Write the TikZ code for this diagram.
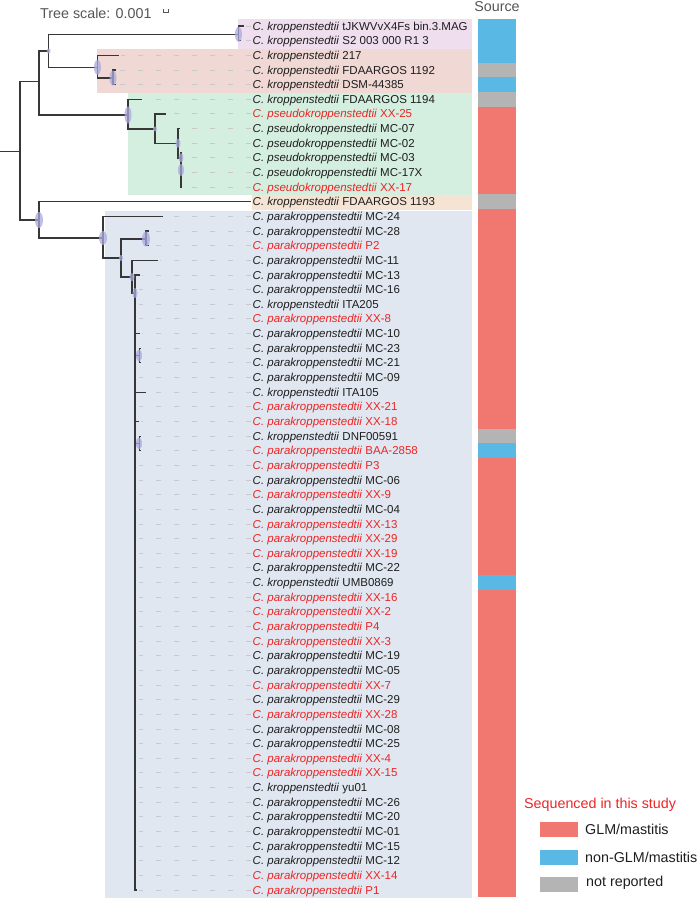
\documentclass[tikz,border=0pt]{standalone}
\usepackage{fontspec}
\setmainfont{Liberation Sans}
\usetikzlibrary{shapes.geometric}
\definecolor{tk}{RGB}{30,30,30}
\definecolor{tr}{RGB}{236,36,36}
\definecolor{tg}{RGB}{85,85,85}
\definecolor{br}{RGB}{55,55,55}
\definecolor{cdash}{RGB}{200,200,205}
\definecolor{cpur}{RGB}{238,222,238}
\definecolor{cpink}{RGB}{240,216,212}
\definecolor{cgreen}{RGB}{212,238,223}
\definecolor{ctan}{RGB}{245,228,211}
\definecolor{cblue}{RGB}{225,231,240}
\definecolor{cglm}{RGB}{240,120,112}
\definecolor{cnon}{RGB}{90,185,228}
\definecolor{cnr}{RGB}{180,180,180}
\definecolor{cell}{RGB}{170,170,222}
\begin{document}
\begin{tikzpicture}[x=1pt,y=-1pt,
  lk/.style={anchor=base west, inner sep=0pt, text=tk, font=\fontsize{11.5}{13}\selectfont},
  lr/.style={lk, text=tr},
  leader/.style={draw=cdash, line width=0.8pt, dash pattern=on 5pt off 13pt},
  branch/.style={draw=br, line width=1.4pt, line cap=rect},
  ell/.style={ellipse, fill=cell, fill opacity=0.75, draw=none, inner sep=0pt},
  bigt/.style={inner sep=0pt, font=\fontsize{14.3}{16}\selectfont},
  legbox/.style={draw=none, minimum width=38pt, minimum height=15pt, inner sep=0pt}]
\useasboundingbox (0,0) rectangle (700,900);
% clade backgrounds
\fill[cpur] (238,18.7) rectangle (472,48.6);
\fill[cpink] (97,48.6) rectangle (472,92.6);
\fill[cgreen] (128,92.6) rectangle (472,194.6);
\fill[ctan] (252,194.6) rectangle (472,209.6);
\fill[cblue] (105,211) rectangle (472,898);
% source bar
\fill[cnon] (478,18.7) rectangle (516,62.6);
\fill[cnr] (478,62.6) rectangle (516,77.3);
\fill[cnon] (478,77.3) rectangle (516,91.9);
\fill[cnr] (478,91.9) rectangle (516,106.5);
\fill[cglm] (478,106.5) rectangle (516,194.4);
\fill[cnr] (478,194.4) rectangle (516,209.0);
\fill[cglm] (478,209.0) rectangle (516,428.7);
\fill[cnr] (478,428.7) rectangle (516,443.4);
\fill[cnon] (478,443.4) rectangle (516,458.0);
\fill[cglm] (478,458.0) rectangle (516,575.2);
\fill[cnon] (478,575.2) rectangle (516,589.8);
\fill[cglm] (478,589.8) rectangle (516,897.3);
% labels and leaf tips
\foreach \i/\tx/\sp/\st/\c in {
1/243/kroppenstedtii/tJKWVvX4Fs bin.3.MAG/lk,
2/240/kroppenstedtii/S2 003 000 R1 3/lk,
3/118/kroppenstedtii/217/lk,
4/115/kroppenstedtii/FDAARGOS 1192/lk,
5/115/kroppenstedtii/DSM-44385/lk,
6/141/kroppenstedtii/FDAARGOS 1194/lk,
7/165/pseudokroppenstedtii/XX-25/lr,
8/179/pseudokroppenstedtii/MC-07/lk,
9/179/pseudokroppenstedtii/MC-02/lk,
10/182/pseudokroppenstedtii/MC-03/lk,
11/182/pseudokroppenstedtii/MC-17X/lk,
12/182/pseudokroppenstedtii/XX-17/lr,
13/250.5/kroppenstedtii/FDAARGOS 1193/lk,
14/162/parakroppenstedtii/MC-24/lk,
15/148/parakroppenstedtii/MC-28/lk,
16/148/parakroppenstedtii/P2/lr,
17/157/parakroppenstedtii/MC-11/lk,
18/139/parakroppenstedtii/MC-13/lk,
19/136/parakroppenstedtii/MC-16/lk,
20/136/kroppenstedtii/ITA205/lk,
21/136/parakroppenstedtii/XX-8/lr,
22/139/parakroppenstedtii/MC-10/lk,
23/140/parakroppenstedtii/MC-23/lk,
24/140/parakroppenstedtii/MC-21/lk,
25/136/parakroppenstedtii/MC-09/lk,
26/145/kroppenstedtii/ITA105/lk,
27/136/parakroppenstedtii/XX-21/lr,
28/138/parakroppenstedtii/XX-18/lr,
29/140/kroppenstedtii/DNF00591/lk,
30/140/parakroppenstedtii/BAA-2858/lr,
31/136/parakroppenstedtii/P3/lr,
32/136/parakroppenstedtii/MC-06/lk,
33/136/parakroppenstedtii/XX-9/lr,
34/136/parakroppenstedtii/MC-04/lk,
35/136/parakroppenstedtii/XX-13/lr,
36/136/parakroppenstedtii/XX-29/lr,
37/136/parakroppenstedtii/XX-19/lr,
38/136/parakroppenstedtii/MC-22/lk,
39/136/kroppenstedtii/UMB0869/lk,
40/136/parakroppenstedtii/XX-16/lr,
41/136/parakroppenstedtii/XX-2/lr,
42/136/parakroppenstedtii/P4/lr,
43/136/parakroppenstedtii/XX-3/lr,
44/136/parakroppenstedtii/MC-19/lk,
45/136/parakroppenstedtii/MC-05/lk,
46/136/parakroppenstedtii/XX-7/lr,
47/136/parakroppenstedtii/MC-29/lk,
48/136/parakroppenstedtii/XX-28/lr,
49/136/parakroppenstedtii/MC-08/lk,
50/136/parakroppenstedtii/MC-25/lk,
51/136/parakroppenstedtii/XX-4/lr,
52/136/parakroppenstedtii/XX-15/lr,
53/136/kroppenstedtii/yu01/lk,
54/136/parakroppenstedtii/MC-26/lk,
55/136/parakroppenstedtii/MC-20/lk,
56/136/parakroppenstedtii/MC-01/lk,
57/136/parakroppenstedtii/MC-15/lk,
58/136/parakroppenstedtii/MC-12/lk,
59/136/parakroppenstedtii/XX-14/lr,
60/136/parakroppenstedtii/P1/lr}{
  \pgfmathsetmacro\yy{26+(\i-1)*14.644}
  \coordinate (t\i) at (\tx,\yy);
  \node[\c] (l\i) at (252.5,\yy+4.1) {\textit{C. \sp} \st};
  \ifnum\i=13\relax\else
    \draw[leader] (l\i.base west |- t\i) ++(-1.5,0) -- ([xshift=3pt]t\i);
  \fi
}
% internal nodes
\coordinate (root0) at (0,151.7);
\coordinate (root) at (20,151.7);
\coordinate (A) at (39,81.7);
\coordinate (A1) at (48.7,51);
\coordinate (P) at (238.5,34.3);
\coordinate (Q) at (97.5,67.3);
\coordinate (Q2) at (113,78);
\coordinate (G) at (128,115);
\coordinate (G2) at (155,129);
\coordinate (G3) at (178,143.2);
\coordinate (G4) at (181,157.8);
\coordinate (B) at (39,220);
\coordinate (C) at (103,238);
\coordinate (D) at (121,258);
\coordinate (E) at (146,239);
\coordinate (F) at (132,277);
\coordinate (H) at (135,293);
\coordinate (H1) at (139,355.5);
\coordinate (H2) at (139,443.4);
% branches
\draw[branch] (root0) -- (root);
\draw[branch] (root) |- (A);
\draw[branch] (root) |- (B);
\draw[branch] (A) |- (A1);
\draw[branch] (A) |- (G);
\draw[branch] (A1) |- (P);
\draw[branch] (A1) |- (Q);
\draw[branch] (P) |- (t1);
\draw[branch] (P) |- (t2);
\draw[branch] (Q) |- (t3);
\draw[branch] (Q) |- (Q2);
\draw[branch] (Q2) |- (t4);
\draw[branch] (Q2) |- (t5);
\draw[branch] (G) |- (t6);
\draw[branch] (G) |- (G2);
\draw[branch] (G2) |- (t7);
\draw[branch] (G2) |- (G3);
\draw[branch] (G3) |- (t8);
\draw[branch] (G3) |- (G4);
\draw[branch] (G4) ++(0,-5) -- (G4 |- t12);
\draw[branch] (B) |- (t13);
\draw[branch] (B) |- (C);
\draw[branch] (C) |- (t14);
\draw[branch] (C) |- (D);
\draw[branch] (D) |- (E);
\draw[branch] (D) |- (F);
\draw[branch] (E) |- (t15);
\draw[branch] (E) |- (t16);
\draw[branch] (F) |- (t17);
\draw[branch] (F) |- (H);
\draw[branch, line width=1.2pt] (H) |- (t18);
\draw[branch, line width=1.2pt] (H) |- (t60);
\draw[branch, line width=1pt] (H |- t22) -- (t22);
\draw[branch, line width=1pt] (H |- t26) -- (t26);
\draw[branch, line width=1pt] (H |- t28) -- (t28);
\draw[branch, line width=1pt] (H |- H1) -- (H1);
\draw[branch, line width=1pt] (H1) |- (t23);
\draw[branch, line width=1pt] (H1) |- (t24);
\draw[branch, line width=1pt] (H |- H2) -- (H2);
\draw[branch, line width=1pt] (H2) |- (t29);
\draw[branch, line width=1pt] (H2) |- (t30);
% node support ellipses
\node[ell, minimum width=4pt, minimum height=5pt] (eA1) at (A1) {};
\node[ell, minimum width=7pt, minimum height=15pt] (eP) at (P) {};
\node[ell, minimum width=7pt, minimum height=15pt] (eQ) at (Q) {};
\node[ell, minimum width=7pt, minimum height=15pt] (eQ2) at (Q2) {};
\node[ell, minimum width=7pt, minimum height=17pt] (eG) at (G) {};
\node[ell, minimum width=4pt, minimum height=5pt] (eG2) at (G2) {};
\node[ell, minimum width=5pt, minimum height=9pt] (eG3) at (G3) {};
\node[ell, minimum width=5pt, minimum height=9pt] (eG4) at (G4) {};
\node[ell, minimum width=6pt, minimum height=12pt] (eG5) at (181,170) {};
\node[ell, minimum width=8pt, minimum height=16pt] (eB) at (B) {};
\node[ell, minimum width=8pt, minimum height=14pt] (eC) at (C) {};
\node[ell, minimum width=8pt, minimum height=15pt] (eE) at (E) {};
\node[ell, minimum width=4pt, minimum height=6pt] (eD) at (D) {};
\node[ell, minimum width=5pt, minimum height=8pt] (eF) at (F) {};
\node[ell, minimum width=5pt, minimum height=10pt] (eH) at (H) {};
\node[ell, minimum width=6pt, minimum height=12pt] (eH1) at (H1) {};
\node[ell, minimum width=6pt, minimum height=12pt] (eH2) at (H2) {};
% titles
\node[bigt, text=tg, anchor=base west] (ts) at (40,18) {Tree scale: 0.001};
\draw[tg, line width=0.6pt] (163.5,9) -- (163.5,12.5) -- (168.5,12.5) -- (168.5,9);
\node[bigt, text=tg, anchor=base] (src) at (497,11.8) {Source};
% legend
\node[bigt, text=tr, anchor=base west] (legt) at (524,808.5) {Sequenced in this study};
\node[legbox, fill=cglm] (b1) at (559,829.5) {};
\node[legbox, fill=cnon] (b2) at (559,857) {};
\node[legbox, fill=cnr] (b3) at (559,884.5) {};
\node[bigt, text=tk, anchor=base west] (lg1) at (585,834.3) {GLM/mastitis};
\node[bigt, text=tk, anchor=base west] (lg2) at (585,862) {non-GLM/mastitis};
\node[bigt, text=tk, anchor=base west] (lg3) at (586,886.5) {not reported};
\end{tikzpicture}
\end{document}
